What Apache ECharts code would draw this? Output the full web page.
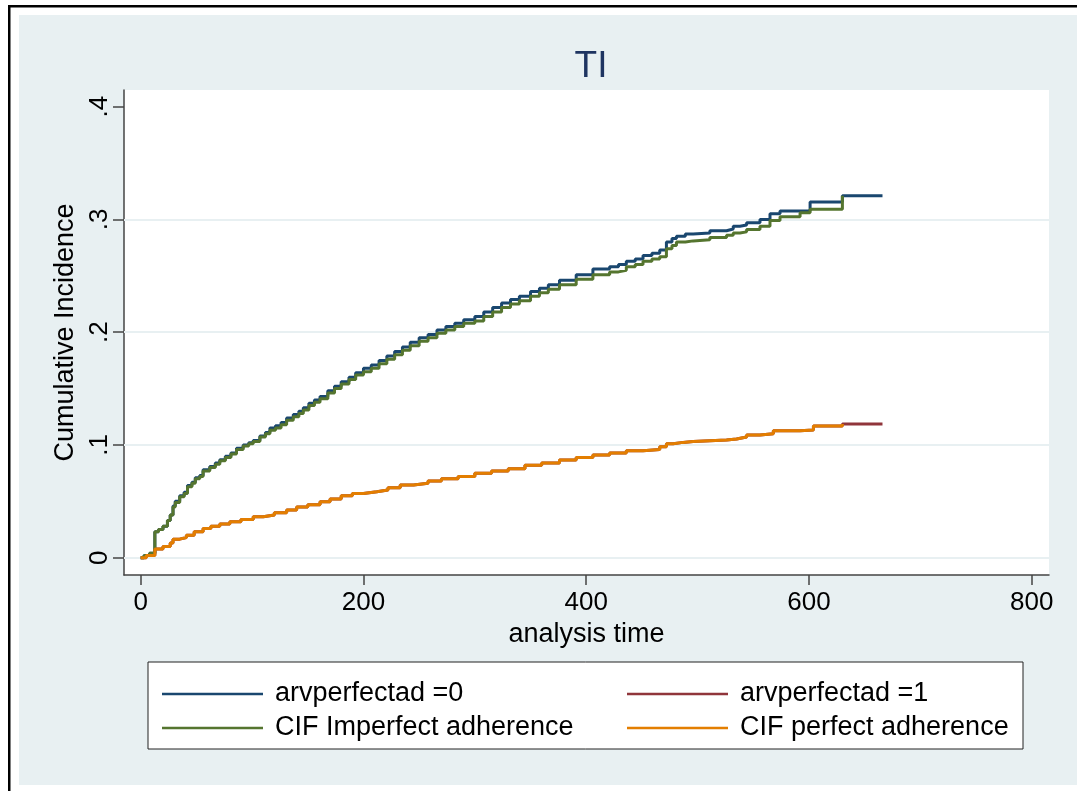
<!DOCTYPE html>
<html>
<head>
<meta charset="utf-8">
<script src="https://cdn.jsdelivr.net/npm/echarts@6/dist/echarts.min.js"></script>
<style>
  html, body { margin: 0; padding: 0; background: #fff; }
  #main { width: 1077px; height: 791px; }
</style>
</head>
<body>
<div id="main"></div>
<script>
// imperfect adherence group: analysis time and curve values
const timesHigh = [0, 3, 8, 12.7, 16, 20, 24, 26.5, 29, 31, 35, 39, 42, 46, 49, 53, 56, 62, 67, 71, 76, 81, 86, 92, 97, 101,
  107, 112, 116, 121, 126, 131, 137, 142, 146, 151, 156, 161, 168, 174, 180, 187, 193, 200, 207, 214, 221, 228, 235, 242,
  250, 258, 266, 274, 282, 290, 300, 308, 316, 324, 332, 340, 350, 358, 366, 376, 391, 406, 421, 429, 436, 444, 451, 459,
  466, 472, 477, 481, 489, 496, 511, 526, 532, 538, 544, 556, 565, 574, 592, 601, 630, 666];
const km0 = [0, 0.002, 0.004, 0.023, 0.025, 0.028, 0.033, 0.038, 0.046, 0.050, 0.055, 0.058, 0.064, 0.067, 0.071, 0.073, 0.078,
  0.081, 0.084, 0.087, 0.090, 0.093, 0.097, 0.100, 0.102, 0.104, 0.108, 0.111, 0.115, 0.117, 0.120, 0.124, 0.127, 0.130,
  0.133, 0.137, 0.140, 0.143, 0.148, 0.152, 0.156, 0.160, 0.164, 0.168, 0.171, 0.175, 0.179, 0.183, 0.187, 0.191, 0.195,
  0.198, 0.202, 0.205, 0.208, 0.211, 0.214, 0.218, 0.222, 0.226, 0.229, 0.232, 0.236, 0.239, 0.242, 0.246, 0.251, 0.256,
  0.258, 0.260, 0.263, 0.265, 0.268, 0.270, 0.273, 0.280, 0.283, 0.285, 0.287, 0.288, 0.290, 0.2915, 0.294, 0.295, 0.297,
  0.300, 0.305, 0.3075, 0.3075, 0.3155, 0.321, 0.321];
const cif0 = [0, 0.002, 0.004, 0.023, 0.025, 0.028, 0.033, 0.038, 0.045, 0.049, 0.054, 0.057, 0.063, 0.066, 0.070, 0.072, 0.077,
  0.080, 0.083, 0.086, 0.089, 0.092, 0.096, 0.099, 0.101, 0.103, 0.107, 0.110, 0.113, 0.115, 0.118, 0.122, 0.125, 0.128,
  0.131, 0.135, 0.138, 0.141, 0.146, 0.150, 0.154, 0.158, 0.162, 0.165, 0.168, 0.172, 0.176, 0.180, 0.184, 0.188, 0.192,
  0.195, 0.199, 0.202, 0.205, 0.208, 0.210, 0.214, 0.218, 0.222, 0.225, 0.228, 0.232, 0.235, 0.238, 0.242, 0.247, 0.251,
  0.2535, 0.255, 0.258, 0.260, 0.263, 0.265, 0.267, 0.274, 0.277, 0.280, 0.281, 0.282, 0.284, 0.286, 0.288, 0.289, 0.291,
  0.294, 0.299, 0.3025, 0.306, 0.309, 0.321];

// perfect adherence group
const timesLow = [0, 5, 12.7, 20, 26.5, 29, 35, 41, 48, 56, 63, 71, 80, 90, 101, 110, 120, 131, 140, 150, 161, 170, 180, 190,
  200, 212, 222, 233, 245, 258, 270, 285, 300, 315, 330, 345, 360, 376, 391, 406, 421, 436, 451, 466, 472, 478, 487, 496,
  526, 535, 544, 556, 568, 592, 604, 630, 666];
const km1 = [0, 0.002, 0.0077, 0.010, 0.013, 0.0165, 0.018, 0.020, 0.023, 0.026, 0.028, 0.030, 0.032, 0.034, 0.0364, 0.038,
  0.040, 0.0423, 0.045, 0.047, 0.0497, 0.052, 0.055, 0.057, 0.0585, 0.060, 0.062, 0.0645, 0.066, 0.068, 0.070, 0.072,
  0.075, 0.077, 0.079, 0.082, 0.084, 0.0867, 0.089, 0.0911, 0.093, 0.0949, 0.096, 0.0985, 0.101, 0.1023, 0.103, 0.1044,
  0.1053, 0.107, 0.1088, 0.110, 0.1127, 0.1133, 0.1168, 0.1186, 0.1186];
const cif1 = [0, 0.002, 0.0077, 0.010, 0.013, 0.0165, 0.018, 0.020, 0.023, 0.026, 0.028, 0.030, 0.032, 0.034, 0.0364, 0.038,
  0.040, 0.0423, 0.045, 0.047, 0.0497, 0.052, 0.055, 0.057, 0.0585, 0.060, 0.062, 0.0645, 0.066, 0.068, 0.070, 0.072,
  0.075, 0.077, 0.079, 0.082, 0.084, 0.0867, 0.089, 0.0911, 0.093, 0.0949, 0.096, 0.0985, 0.101, 0.1023, 0.103, 0.1044,
  0.1053, 0.107, 0.1088, 0.110, 0.1127, 0.1133, 0.1168, 0.1186];

const xTicks = [0, 200, 400, 600, 800];
const yTicks = [0, 0.1, 0.2, 0.3, 0.4];
const gridVals = [0, 0.1, 0.2, 0.3];

const names = ['arvperfectad =0', 'arvperfectad =1', 'CIF Imperfect adherence', 'CIF perfect adherence'];

const pair = (ts, vs) => vs.map((v, i) => [ts[i], v]);

const FONT = "'Liberation Sans', Arial, sans-serif";
const chart = echarts.init(document.getElementById('main'));

function stepLine(name, color, data, z) {
  return {
    name: name,
    type: 'line',
    step: 'end',
    showSymbol: false,
    symbol: 'none',
    z: z,
    animation: false,
    lineStyle: { color: color, width: 3 },
    itemStyle: { color: color },
    data: data,
  };
}

const series = [
  stepLine(names[0], '#1A476F', pair(timesHigh, km0), 3),
  stepLine(names[1], '#90353B', pair(timesLow, km1), 3),
  stepLine(names[2], '#55752F', pair(timesHigh, cif0), 4),
  stepLine(names[3], '#E37E00', pair(timesLow, cif1), 4),
];
// light grid lines
series[0].markLine = {
  silent: true,
  symbol: 'none',
  label: { show: false },
  lineStyle: { color: '#E8F0F2', width: 2, type: 'solid' },
  data: gridVals.map(v => ({ yAxis: v })),
  z: 1,
};

const legendText = { fontSize: 27, fontFamily: FONT, color: '#000', lineHeight: 30, padding: [0, 0, 0, 7] };

const option = {
  backgroundColor: '#fff',
  animation: false,
  textStyle: { fontFamily: FONT },
  title: {
    text: 'TI',
    left: 586,
    top: 43,
    textAlign: 'center',
    textStyle: { fontSize: 37, fontWeight: 'normal', color: '#1E3461', fontFamily: FONT },
  },
  graphic: [
    { type: 'rect', z: -100, shape: { x: 19, y: 15, width: 1058, height: 770 }, style: { fill: '#E8F0F2' } },
    { type: 'rect', z: -100, shape: { x: 8, y: 5, width: 1069, height: 2.5 }, style: { fill: '#000' } },
    { type: 'rect', z: -100, shape: { x: 8, y: 5, width: 2.5, height: 786 }, style: { fill: '#000' } },
    { type: 'rect', z: 5, shape: { x: 148, y: 662, width: 875, height: 87 }, style: { fill: '#fff', stroke: '#222', lineWidth: 1 } },
  ],
  legend: [
    {
      orient: 'vertical', left: 157, top: 674, z: 10,
      data: [names[0], names[2]],
      icon: 'rect', itemWidth: 101, itemHeight: 2.5, itemGap: 4,
      textStyle: legendText,
      selectedMode: false,
    },
    {
      orient: 'vertical', left: 622, top: 674, z: 10,
      data: [names[1], names[3]],
      icon: 'rect', itemWidth: 101, itemHeight: 2.5, itemGap: 4,
      textStyle: legendText,
      selectedMode: false,
    },
  ],
  grid: {
    left: 124, right: 28, top: 90, bottom: 216,
    show: true, backgroundColor: '#fff', borderWidth: 0,
  },
  xAxis: {
    type: 'value',
    min: -15,
    max: 815.5,
    name: 'analysis time',
    nameLocation: 'middle',
    nameGap: 43,
    nameTextStyle: { fontSize: 27, color: '#000', fontFamily: FONT },
    axisLine: { show: true, onZero: false, lineStyle: { color: '#444', width: 1.5 } },
    axisTick: { show: true, length: 10, customValues: xTicks, lineStyle: { color: '#444', width: 1.5 } },
    axisLabel: { customValues: xTicks, fontSize: 26, color: '#000', margin: 15, fontFamily: FONT },
    splitLine: { show: false },
  },
  yAxis: {
    type: 'value',
    min: -0.0153,
    max: 0.4148,
    name: 'Cumulative Incidence',
    nameLocation: 'middle',
    nameGap: 45,
    nameTextStyle: { fontSize: 27, color: '#000', fontFamily: FONT },
    axisLine: { show: true, onZero: false, lineStyle: { color: '#444', width: 1.5 } },
    axisTick: { show: true, length: 11, customValues: yTicks, lineStyle: { color: '#444', width: 1.5 } },
    axisLabel: {
      customValues: yTicks, fontSize: 26, color: '#000', rotate: 90, margin: 11, fontFamily: FONT,
      formatter: v => (v === 0 ? '0' : v.toFixed(1).slice(1)),
    },
    splitLine: { show: false },
  },
  series: series,
};

chart.setOption(option);
</script>
</body>
</html>
